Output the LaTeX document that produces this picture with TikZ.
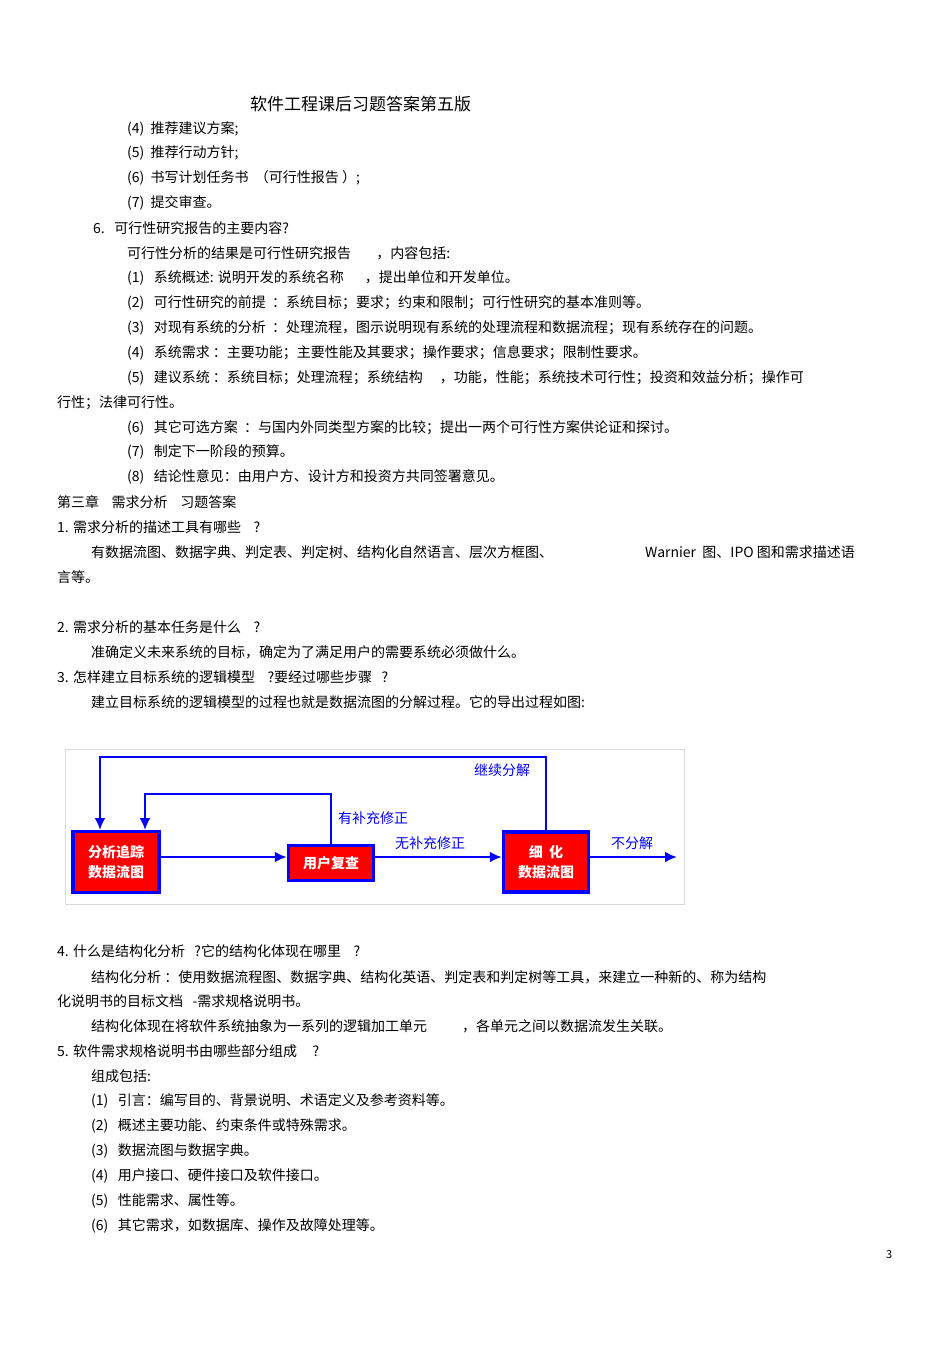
\documentclass[tikz,border=0pt]{standalone}
\usepackage{fontspec}
\usetikzlibrary{arrows.meta}
\setmainfont{Noto Sans CJK SC}
\begin{document}
\begin{tikzpicture}[x=1pt,y=-1pt,
  t/.style={anchor=west,inner sep=0pt,font=\fontsize{14}{16}\selectfont},
  box/.style={draw=blue,line width=3.5pt,fill=red,text=white,font=\fontsize{14}{20}\selectfont\bfseries,align=center,inner sep=0pt},
  ln/.style={blue,line width=2.8pt},
  arr/.style={ln,-{Latex[length=12pt,width=11pt]}},
  lb/.style={text=blue,font=\fontsize{14}{16}\selectfont,inner sep=0pt}]
\useasboundingbox (0,0) rectangle (950,1345);
\fill[white] (0,0) rectangle (950,1345);
\node[anchor=west,inner sep=0pt,font=\fontsize{17}{19}\selectfont] (title) at (250,104) {软件工程课后习题答案第五版};
\node[t] (a1) at (127,129) {(4)\ \ 推荐建议方案;};
\node[t] (a2) at (127,153) {(5)\ \ 推荐行动方针;};
\node[t] (a3) at (127,178) {(6)\ \ 书写计划任务书\ \ （可行性报告\ ）;};
\node[t] (a4) at (127,203) {(7)\ \ 提交审查。};
\node[t] (a5) at (93,228) {6.\ \ \ 可行性研究报告的主要内容?};
\node[t] (a6) at (127,253) {可行性分析的结果是可行性研究报告\hspace{1.8em}，内容包括:};
\node[t] (a7) at (127,278) {(1)\ \ \ 系统概述: 说明开发的系统名称\hspace{1.5em}，提出单位和开发单位。};
\node[t] (a8) at (127,303) {(2)\ \ \ 可行性研究的前提\ \ ：系统目标；要求；约束和限制；可行性研究的基本准则等。};
\node[t] (a9) at (127,328) {(3)\ \ \ 对现有系统的分析\ \ ：处理流程，图示说明现有系统的处理流程和数据流程；现有系统存在的问题。};
\node[t] (a10) at (127,353) {(4)\ \ \ 系统需求\ ：主要功能；主要性能及其要求；操作要求；信息要求；限制性要求。};
\node[t] (a11) at (127,378) {(5)\ \ \ 建议系统\ ：系统目标；处理流程；系统结构\hspace{1.2em}，功能，性能；系统技术可行性；投资和效益分析；操作可};
\node[t] (a12) at (57,403) {行性；法律可行性。};
\node[t] (a13) at (127,428) {(6)\ \ \ 其它可选方案\ \ ：与国内外同类型方案的比较；提出一两个可行性方案供论证和探讨。};
\node[t] (a14) at (127,452) {(7)\ \ \ 制定下一阶段的预算。};
\node[t] (a15) at (127,477) {(8)\ \ \ 结论性意见：由用户方、设计方和投资方共同签署意见。};
\node[t] (a16) at (57,502) {第三章\ \ \ \ 需求分析\ \ \ \ 习题答案};
\node[t] (a17) at (57,527) {1. 需求分析的描述工具有哪些\ \ \ \ ?};
\node[t] (a18) at (91,552) {有数据流图、数据字典、判定表、判定树、结构化自然语言、层次方框图、};
\node[t] (a18b) at (645,552) {Warnier\ \ 图、IPO 图和需求描述语};
\node[t] (a19) at (57,577) {言等。};
\node[t] (a20) at (57,627) {2. 需求分析的基本任务是什么\ \ \ \ ?};
\node[t] (a21) at (91,652) {准确定义未来系统的目标，确定为了满足用户的需要系统必须做什么。};
\node[t] (a22) at (57,677) {3. 怎样建立目标系统的逻辑模型\ \ \ \ ?要经过哪些步骤\ \ \ ?};
\node[t] (a23) at (91,702) {建立目标系统的逻辑模型的过程也就是数据流图的分解过程。它的导出过程如图:};
% diagram
\draw[black!15] (65,749) rectangle (684,904);
\node[box,minimum width=86pt,minimum height=61pt] (A) at (116,862) {分析追踪\\数据流图};
\node[box,minimum width=85pt,minimum height=35pt] (B) at (331,863) {用户复查};
\node[box,minimum width=85pt,minimum height=60pt] (C) at (546,862) {细\ \ 化\\数据流图};
\coordinate (E) at (677,857);
\draw[arr] (A.east |- 0,857) -- (B.west |- 0,857);
\draw[arr] (B.east |- 0,857) -- (C.west |- 0,857);
\draw[arr] (C.east |- 0,857) -- (E);
\draw[arr] (C.north) -- (546,757) -- (100,757) -- (100,830);
\draw[arr] (B.north) -- (331,794) -- (145,794) -- (145,830);
\node[lb] (l1) at (502,770) {继续分解};
\node[lb] (l2) at (373,818) {有补充修正};
\node[lb] (l3) at (430,843) {无补充修正};
\node[lb] (l4) at (632,843) {不分解};
% rest
\node[t] (b1) at (57,951) {4. 什么是结构化分析\ \ \ ?它的结构化体现在哪里\ \ \ \ ?};
\node[t] (b2) at (91,977) {结构化分析\ ：使用数据流程图、数据字典、结构化英语、判定表和判定树等工具，来建立一种新的、称为结构};
\node[t] (b3) at (57,1001) {化说明书的目标文档\ \ \ -需求规格说明书。};
\node[t] (b4) at (91,1026) {结构化体现在将软件系统抽象为一系列的逻辑加工单元\hspace{2.5em}，各单元之间以数据流发生关联。};
\node[t] (b5) at (57,1051) {5. 软件需求规格说明书由哪些部分组成\ \ \ \ \ ?};
\node[t] (b6) at (91,1076) {组成包括:};
\node[t] (b7) at (91,1101) {(1)\ \ \ 引言：编写目的、背景说明、术语定义及参考资料等。};
\node[t] (b8) at (91,1126) {(2)\ \ \ 概述主要功能、约束条件或特殊需求。};
\node[t] (b9) at (91,1151) {(3)\ \ \ 数据流图与数据字典。};
\node[t] (b10) at (91,1176) {(4)\ \ \ 用户接口、硬件接口及软件接口。};
\node[t] (b11) at (91,1201) {(5)\ \ \ 性能需求、属性等。};
\node[t] (b12) at (91,1226) {(6)\ \ \ 其它需求，如数据库、操作及故障处理等。};
\node[t,font=\fontsize{11}{12}\selectfont] (pg) at (886,1255) {3};
\end{tikzpicture}
\end{document}
